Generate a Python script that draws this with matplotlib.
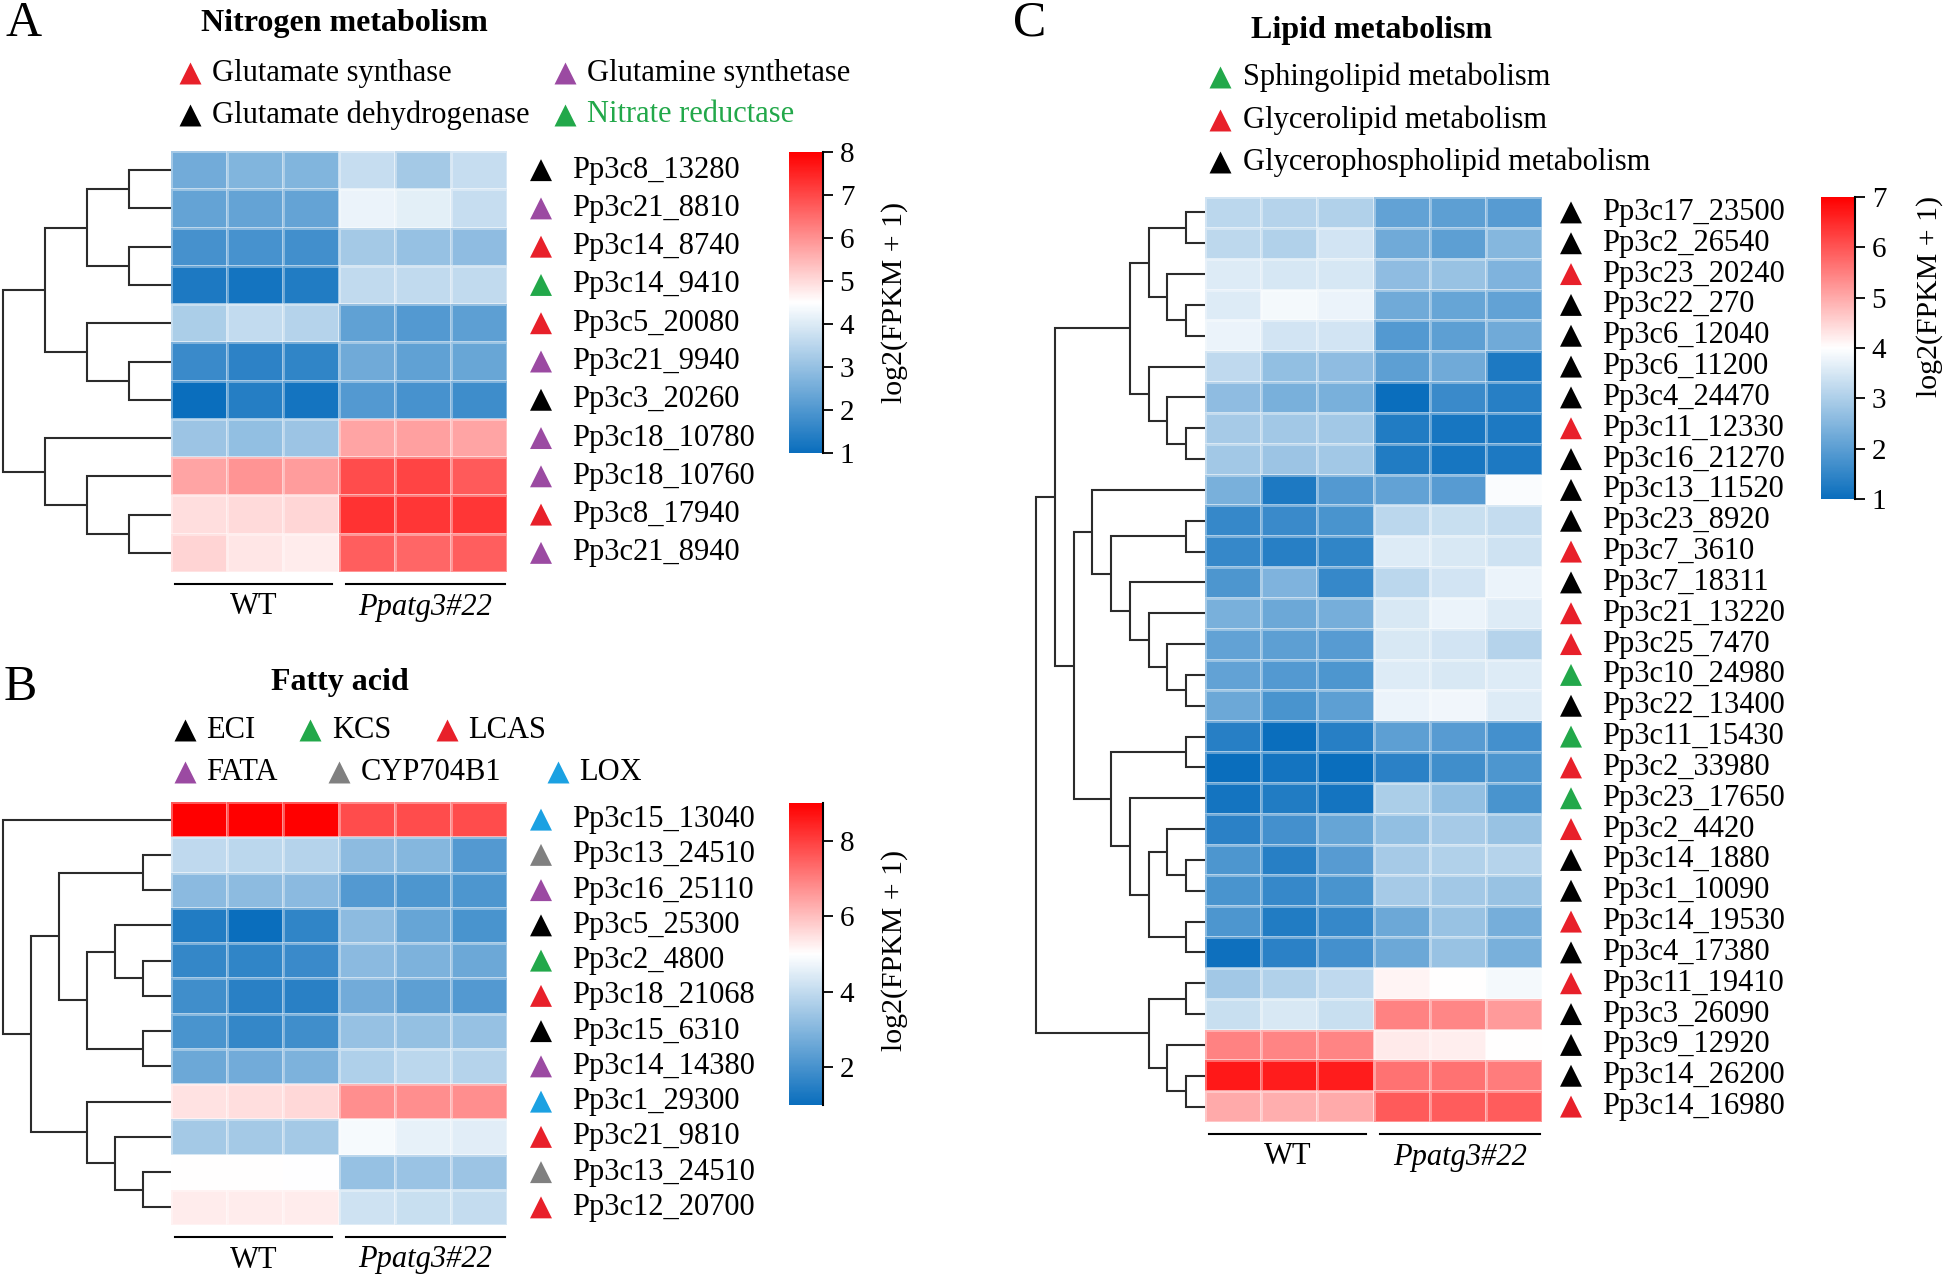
import matplotlib
matplotlib.use('Agg')
import matplotlib.pyplot as plt
import numpy as np
from matplotlib.colors import LinearSegmentedColormap, Normalize
from matplotlib.cm import ScalarMappable
import matplotlib.transforms as mtransforms

plt.rcParams['font.family'] = ['Liberation Serif', 'DejaVu Serif']

# ---------------- DATA ----------------
groups = ['WT', 'Ppatg3#22']

# class -> colour of triangle markers
class_colors = {'red': '#E8202A', 'purple': '#9B4AA2', 'green': '#22A84A',
                'black': '#000000', 'gray': '#808080', 'blue': '#1BA1E2'}

# Panel A: Nitrogen metabolism
A_title = 'Nitrogen metabolism'
A_legend = [('Glutamate synthase', 'red'), ('Glutamine synthetase', 'purple'),
            ('Glutamate dehydrogenase', 'black'), ('Nitrate reductase', 'green')]
A_genes = ['Pp3c8_13280', 'Pp3c21_8810', 'Pp3c14_8740', 'Pp3c14_9410', 'Pp3c5_20080',
           'Pp3c21_9940', 'Pp3c3_20260', 'Pp3c18_10780', 'Pp3c18_10760', 'Pp3c8_17940',
           'Pp3c21_8940']
A_classes = ['black', 'purple', 'red', 'green', 'red', 'purple', 'black', 'purple',
             'purple', 'red', 'purple']
A_values = [[2.5, 2.7, 2.7, 3.7, 3.2, 3.7],
            [2.3, 2.3, 2.3, 4.2, 4.1, 3.7],
            [1.85, 1.9, 1.8, 3.2, 3.0, 2.9],
            [1.3, 1.15, 1.35, 3.6, 3.6, 3.6],
            [3.3, 3.65, 3.45, 2.25, 2.05, 2.2],
            [1.7, 1.5, 1.55, 2.45, 2.25, 2.35],
            [1.0, 1.4, 1.15, 2.05, 1.9, 1.75],
            [3.1, 2.95, 3.1, 5.75, 5.8, 5.75],
            [5.75, 5.95, 5.85, 6.95, 7.05, 6.75],
            [4.95, 5.0, 5.05, 7.3, 7.25, 7.25],
            [5.1, 4.85, 4.75, 6.7, 6.6, 6.7]]
A_range = (1, 8)
A_ticks = [1, 2, 3, 4, 5, 6, 7, 8]
# dendrogram: (height, left, right), leaves are row indices
A_tree = (4, (3, (2, (1, 0, 1), (1, 2, 3)), (2, 4, (1, 5, 6))),
             (3, 7, (2, 8, (1, 9, 10))))

# Panel B: Fatty acid
B_title = 'Fatty acid'
B_legend = [('ECI', 'black'), ('KCS', 'green'), ('LCAS', 'red'),
            ('FATA', 'purple'), ('CYP704B1', 'gray'), ('LOX', 'blue')]
B_genes = ['Pp3c15_13040', 'Pp3c13_24510', 'Pp3c16_25110', 'Pp3c5_25300', 'Pp3c2_4800',
           'Pp3c18_21068', 'Pp3c15_6310', 'Pp3c14_14380', 'Pp3c1_29300', 'Pp3c21_9810',
           'Pp3c13_24510', 'Pp3c12_20700']
B_classes = ['blue', 'gray', 'purple', 'black', 'green', 'red', 'black', 'purple',
             'blue', 'red', 'gray', 'red']
B_values = [[9.0, 9.0, 9.0, 7.8, 7.8, 7.8],
            [3.95, 3.9, 3.8, 3.15, 3.0, 2.2],
            [3.1, 3.15, 3.1, 2.2, 2.1, 2.1],
            [1.4, 1.0, 1.65, 3.15, 2.5, 2.05],
            [1.7, 1.65, 1.8, 3.1, 2.9, 2.6],
            [1.9, 1.5, 1.5, 2.7, 2.35, 2.2],
            [2.05, 1.7, 1.9, 3.3, 3.25, 3.3],
            [2.6, 2.7, 2.9, 3.7, 3.9, 3.8],
            [5.45, 5.5, 5.6, 6.75, 6.75, 6.75],
            [3.5, 3.5, 3.5, 4.85, 4.6, 4.5],
            [5.0, 5.02, 4.98, 3.3, 3.35, 3.4],
            [5.3, 5.3, 5.3, 4.2, 4.1, 4.05]]
B_range = (1, 9)
B_ticks = [2, 4, 6, 8]
B_tree = (6, 0, (5, (4, (1, 1, 2), (3, (2, 3, (1, 4, 5)), (1, 6, 7))),
                 (3, 8, (2, 9, (1, 10, 11)))))

# Panel C: Lipid metabolism
C_title = 'Lipid metabolism'
C_legend = [('Sphingolipid metabolism', 'green'), ('Glycerolipid metabolism', 'red'),
            ('Glycerophospholipid metabolism', 'black')]
C_genes = ['Pp3c17_23500', 'Pp3c2_26540', 'Pp3c23_20240', 'Pp3c22_270', 'Pp3c6_12040',
           'Pp3c6_11200', 'Pp3c4_24470', 'Pp3c11_12330', 'Pp3c16_21270', 'Pp3c13_11520',
           'Pp3c23_8920', 'Pp3c7_3610', 'Pp3c7_18311', 'Pp3c21_13220', 'Pp3c25_7470',
           'Pp3c10_24980', 'Pp3c22_13400', 'Pp3c11_15430', 'Pp3c2_33980', 'Pp3c23_17650',
           'Pp3c2_4420', 'Pp3c14_1880', 'Pp3c1_10090', 'Pp3c14_19530', 'Pp3c4_17380',
           'Pp3c11_19410', 'Pp3c3_26090', 'Pp3c9_12920', 'Pp3c14_26200', 'Pp3c14_16980']
C_classes = ['black', 'black', 'red', 'black', 'black', 'black', 'black', 'red', 'black',
             'black', 'black', 'red', 'black', 'red', 'red', 'green', 'black', 'green',
             'red', 'green', 'red', 'black', 'black', 'red', 'black', 'red', 'black',
             'black', 'black', 'red']
C_values = [[3.16, 3.1, 3.04, 2.08, 2.02, 1.96],
            [3.2, 3.04, 3.45, 2.26, 2.02, 2.5],
            [3.58, 3.5, 3.5, 2.62, 2.74, 2.44],
            [3.58, 3.88, 3.76, 2.26, 2.14, 2.08],
            [3.76, 3.46, 3.46, 1.9, 2.02, 2.26],
            [3.22, 2.68, 2.62, 2.02, 2.26, 1.24],
            [2.62, 2.38, 2.38, 1.0, 1.6, 1.36],
            [2.92, 2.86, 2.86, 1.3, 1.18, 1.24],
            [2.86, 2.8, 2.86, 1.3, 1.18, 1.24],
            [2.38, 1.24, 1.9, 2.08, 1.96, 3.95],
            [1.54, 1.6, 1.78, 3.16, 3.34, 3.28],
            [1.54, 1.36, 1.48, 3.58, 3.52, 3.4],
            [1.84, 2.44, 1.54, 3.16, 3.46, 3.76],
            [2.38, 2.2, 2.32, 3.52, 3.76, 3.58],
            [2.08, 2.02, 1.96, 3.52, 3.46, 3.1],
            [2.08, 1.9, 1.84, 3.58, 3.52, 3.58],
            [2.2, 1.78, 2.02, 3.76, 3.82, 3.58],
            [1.36, 1.0, 1.36, 2.02, 1.96, 1.72],
            [1.0, 1.12, 1.0, 1.42, 1.66, 1.84],
            [1.12, 1.3, 1.12, 2.98, 2.68, 1.78],
            [1.42, 1.72, 2.14, 2.68, 2.92, 2.74],
            [1.84, 1.36, 1.96, 2.92, 3.04, 3.1],
            [1.78, 1.54, 1.78, 2.92, 2.86, 2.74],
            [1.84, 1.3, 1.54, 2.2, 2.74, 2.32],
            [1.06, 1.42, 1.72, 2.2, 2.74, 2.38],
            [2.86, 3.04, 3.22, 4.12, 4.0, 3.88],
            [3.34, 3.52, 3.34, 5.47, 5.41, 5.18],
            [5.47, 5.45, 5.45, 4.24, 4.2, 4.0],
            [6.7, 6.67, 6.65, 5.65, 5.65, 5.53],
            [5.0, 4.94, 5.0, 5.94, 5.92, 5.92]]
C_range = (1, 7)
C_ticks = [1, 2, 3, 4, 5, 6, 7]
C_tree = (9,
          (8,
           (4, (3, (1, 0, 1), (2, 2, (1, 3, 4))), (3, 5, (2, 6, (1, 7, 8)))),
           (7,
            (6, 9, (5, (1, 10, 11), (4, 12, (3, 13, (2, 14, (1, 15, 16)))))),
            (5, (1, 17, 18), (4, 19, (3, (2, 20, (1, 21, 22)), (1, 23, 24)))))),
          (3, (1, 25, 26), (2, 27, (1, 28, 29))))

# ---------------- LAYOUT / STYLE ----------------
W, H, DPI = 1946, 1276, 100
FS = 22
cmap = LinearSegmentedColormap.from_list('bwr_ref', ['#0A6EBD', '#FFFFFF', '#FF0000'])

fig = plt.figure(figsize=(W / DPI, H / DPI), dpi=DPI)


def px_axes(x, y, w, h):
    return fig.add_axes([x / W, 1 - (y + h) / H, w / W, h / H])


def off(dx, dy):
    return mtransforms.ScaledTranslation(dx / DPI, dy / DPI, fig.dpi_scale_trans)


ov = px_axes(0, 0, W, H)
ov.set_xlim(0, W)
ov.set_ylim(H, 0)
ov.axis('off')


def draw_tree(ax, node):
    if isinstance(node, int):
        return node + 0.5, 0
    h, left, right = node
    yl, hl = draw_tree(ax, left)
    yr, hr = draw_tree(ax, right)
    ax.plot([hl, h, h, hr], [yl, yl, yr, yr], color='#2b2b2b', lw=1.5,
            solid_capstyle='butt', solid_joinstyle='miter', clip_on=False)
    return (yl + yr) / 2, h


def panel(values, genes, classes, tree, vrange, ticks, hm_box, dendro_box, cb_box,
          tri_dx, txt_dx, cb_label_pos):
    vals = np.array(values)
    n = len(genes)
    norm = Normalize(vmin=vrange[0], vmax=vrange[1])
    ax = px_axes(*hm_box)
    ax.pcolormesh(np.arange(7), np.arange(n + 1), vals, cmap=cmap, norm=norm,
                  edgecolors=(1, 1, 1, 0.35), linewidth=1.0)
    ax.set_xlim(0, 6)
    ax.set_ylim(n, 0)
    ax.axis('off')

    # dendrogram
    dax = px_axes(*dendro_box)
    draw_tree(dax, tree)
    dax.set_xlim(tree[0], 0)
    dax.set_ylim(n, 0)
    dax.axis('off')

    # gene markers and labels
    base = mtransforms.blended_transform_factory(ax.transAxes, ax.transData)
    rows = np.arange(n) + 0.5
    ax.scatter(np.ones(n), rows, marker='^', s=250, linewidths=0,
               c=[class_colors[c] for c in classes], transform=base + off(tri_dx, 0),
               clip_on=False)
    for g, r in zip(genes, rows):
        ax.annotate(g, xy=(1, r), xycoords=base, xytext=(txt_dx, 0),
                    textcoords='offset pixels', va='center', ha='left', fontsize=FS)

    # group bars
    gtrans = mtransforms.blended_transform_factory(ax.transData, ax.transAxes)
    for (x0, x1), lab, style in zip([(0.07, 2.87), (3.12, 5.97)], groups,
                                     ['normal', 'italic']):
        ax.plot([x0, x1], [0, 0], color='black', lw=1.5, transform=gtrans + off(0, -12),
                clip_on=False)
        ax.text((x0 + x1) / 2, 0, lab, transform=gtrans + off(0, -35), ha='center',
                va='center', fontsize=FS, style=style)

    # colorbar
    cax = px_axes(*cb_box)
    cb = fig.colorbar(ScalarMappable(norm=norm, cmap=cmap), cax=cax, ticks=ticks)
    cb.outline.set_visible(False)
    cax.plot([1, 1], [0, 1], transform=cax.transAxes, color='black', lw=1.5,
             clip_on=False)
    cax.tick_params(length=7, width=1.3, labelsize=21, pad=5, direction='out',
                    colors='black')
    ov.text(cb_label_pos[0], cb_label_pos[1], 'log2(FPKM + 1)', rotation=90,
            ha='center', va='center', fontsize=21.5)


panel(A_values, A_genes, A_classes, A_tree, A_range, A_ticks,
      (171, 151, 336, 421), (3, 151, 168, 421), (789, 152, 34, 301), 34, 65, (895, 302))
panel(B_values, B_genes, B_classes, B_tree, B_range, B_ticks,
      (171, 802, 336, 423), (3, 802, 168, 423), (789, 803, 34, 302), 34, 65, (895, 950))
panel(C_values, C_genes, C_classes, C_tree, C_range, C_ticks,
      (1205, 197, 337, 925), (1036, 197, 169, 925), (1821, 197, 34, 302), 29, 60,
      (1930, 296))

# titles and panel letters
ov.text(5, 36, 'A', fontsize=36, ha='left', va='baseline')
ov.text(4, 700, 'B', fontsize=36, ha='left', va='baseline')
ov.text(1013, 35, 'C', fontsize=36, ha='left', va='baseline')
ov.text(344, 31, A_title, fontsize=23, fontweight='bold', ha='center', va='baseline')
ov.text(340, 690, B_title, fontsize=23, fontweight='bold', ha='center', va='baseline')
ov.text(1372, 38, C_title, fontsize=23, fontweight='bold', ha='center', va='baseline')

# category legends (triangle x, text x, y)
legend_pos = {
    'A': [(190, 212, 73), (565, 587, 73), (190, 212, 115), (565, 587, 115)],
    'B': [(185, 206, 730), (310, 332, 730), (447, 468, 730),
          (185, 206, 772), (339, 361, 772), (558, 579, 772)],
    'C': [(1220, 1243, 77), (1220, 1243, 120), (1220, 1243, 162)],
}
for key, items in (('A', A_legend), ('B', B_legend), ('C', C_legend)):
    for (lab, cls), (tx, lx, y) in zip(items, legend_pos[key]):
        col = class_colors[cls]
        ov.scatter([tx], [y], marker='^', s=250, color=col, linewidths=0)
        tcol = col if lab == 'Nitrate reductase' else 'black'
        ov.text(lx, y, lab, fontsize=FS, ha='left', va='center', color=tcol)

fig.savefig('out.png', dpi=DPI)
